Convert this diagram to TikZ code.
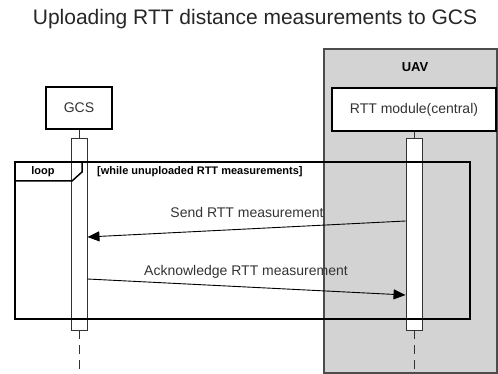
\documentclass[tikz,border=0pt]{standalone}
\usepackage{fontspec}
\setmainfont{Liberation Sans}
\usetikzlibrary{arrows.meta}
\definecolor{uavfill}{HTML}{D3D3D3}
\definecolor{msgtext}{HTML}{333333}
\tikzset{
  actorbox/.style={draw=black, line width=2.2pt, fill=white, inner sep=0pt, text=msgtext, font=\fontsize{14}{16}\selectfont},
  actbar/.style={draw=black!80, line width=0.9pt, fill=white},
  msg/.style={draw=black, line width=0.9pt, -{Triangle[length=12pt,width=10pt]}},
  msglabel/.style={font=\fontsize{14}{16}\selectfont, text=msgtext},
  lifedash/.style={draw=black!80, line width=0.9pt, dash pattern=on 9pt off 6pt},
  fraglabel/.style={font=\bfseries\fontsize{11}{13}\selectfont},
}
\begin{document}
\begin{tikzpicture}[x=1pt, y=-1pt]
\useasboundingbox (0,0) rectangle (498,374);

% title
\node[font=\fontsize{21}{24}\selectfont, text=black!85, anchor=base, inner sep=0pt] (title) at (255,25) {Uploading RTT distance measurements to GCS};

% UAV container
\draw[fill=uavfill, draw=black!70, line width=1.4pt] (324,49) rectangle (497,373);
\node[font=\bfseries\fontsize{13}{15}\selectfont, anchor=base, inner sep=0pt] (uav) at (415,72) {UAV};

% participants
\node[actorbox, minimum width=66pt, minimum height=42pt] (gcs) at (79,108) {GCS};
\node[actorbox, minimum width=164pt, minimum height=43pt] (rtt) at (414,109.5) {RTT module(central)};

% activation bars
\node[actbar, minimum width=16pt, minimum height=192pt, inner sep=0pt] (gcsbar) at (79,234) {};
\node[actbar, minimum width=16pt, minimum height=192pt, inner sep=0pt] (rttbar) at (414,234) {};

% lifelines
\draw[draw=black!80, line width=0.9pt] (gcs.south) -- (gcsbar.north);
\draw[draw=black!80, line width=0.9pt] (rtt.south) -- (rttbar.north);
\coordinate (gcsend) at (79,372);
\coordinate (rttend) at (414,372);
\draw[lifedash] (gcsbar.south) -- (gcsend);
\draw[lifedash] (rttbar.south) -- (rttend);

% loop fragment
\draw[line width=1.8pt] (15,162) rectangle (470,319);
\coordinate (tabA) at (15,181);
\coordinate (tabB) at (72,181);
\coordinate (tabC) at (82,172);
\coordinate (tabD) at (82,162);
\draw[line width=1.5pt] (tabA) -- (tabB) -- (tabC) -- (tabD);
\node[fraglabel, anchor=base, inner sep=0pt] (looplbl) at (43,175) {loop};
\node[fraglabel, anchor=base west, inner sep=0pt] (guard) at (97,175) {[while unuploaded RTT measurements]};

% messages
\coordinate (m1s) at ([yshift=13pt]rttbar.west);
\coordinate (m1e) at ([yshift=-3pt]gcsbar.east);
\draw[msg] (m1s) -- (m1e);
\node[msglabel, anchor=base, inner sep=0pt] (m1lbl) at (247,218) {Send RTT measurement};

\coordinate (m2s) at ([yshift=-45pt]gcsbar.east);
\coordinate (m2e) at ([yshift=-61pt]rttbar.west);
\draw[msg] (m2s) -- (m2e);
\node[msglabel, anchor=base, inner sep=0pt] (m2lbl) at (246,276) {Acknowledge RTT measurement};
\end{tikzpicture}
\end{document}
